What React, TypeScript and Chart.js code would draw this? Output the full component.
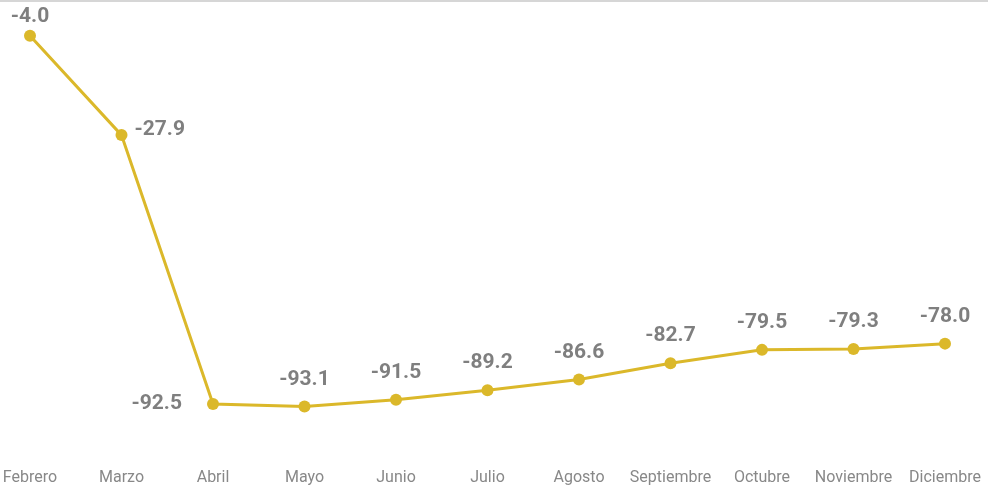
import React, { useEffect, useRef } from "react";
import { Chart, registerables } from "chart.js";

Chart.register(...registerables);

const months = ["Febrero", "Marzo", "Abril", "Mayo", "Junio", "Julio", "Agosto", "Septiembre", "Octubre", "Noviembre", "Diciembre"];
const values = [-4.0, -27.9, -92.5, -93.1, -91.5, -89.2, -86.6, -82.7, -79.5, -79.3, -78.0];

const LINE = "#DBB82A";
const LABEL = "#7F7F7F";

const labelPlugin = {
  id: "valueLabels",
  afterDatasetsDraw(chart: any) {
    const ctx = chart.ctx;
    const meta = chart.getDatasetMeta(0);
    ctx.save();
    ctx.font = "bold 21px Roboto, 'Noto Sans', sans-serif";
    ctx.fillStyle = LABEL;
    ctx.textBaseline = "middle";
    meta.data.forEach((pt: any, i: number) => {
      const txt = values[i].toFixed(1);
      let x = pt.x;
      let y = pt.y;
      if (i === 1) {
        ctx.textAlign = "left";
        x = pt.x + 13;
        y = pt.y - 5;
      } else if (i === 2) {
        ctx.textAlign = "right";
        x = pt.x - 31;
      } else {
        ctx.textAlign = "center";
        y = Math.max(pt.y - 27, 17);
      }
      ctx.fillText(txt, x, y);
    });
    ctx.restore();
  },
};

export default function App() {
  const ref = useRef<HTMLCanvasElement>(null);
  useEffect(() => {
    const chart = new Chart(ref.current!, {
      type: "line",
      data: {
        labels: months,
        datasets: [
          {
            data: values,
            borderColor: LINE,
            backgroundColor: LINE,
            borderWidth: 3,
            pointRadius: 6,
            pointHoverRadius: 6,
            pointBackgroundColor: LINE,
            pointBorderWidth: 0,
            tension: 0,
          },
        ],
      },
      options: {
        animation: false,
        responsive: false,
        layout: { padding: { left: 30, right: 43, top: 19, bottom: 0 } },
        plugins: { legend: { display: false }, tooltip: { enabled: false } },
        scales: {
          x: {
            offset: false,
            grid: { display: false },
            border: { display: false },
            afterFit(scale: any) {
              scale.height = 32;
              scale.paddingLeft = 0;
              scale.paddingRight = 0;
            },
            ticks: {
              color: "#888888",
              font: { family: "Roboto, 'Noto Sans', sans-serif", size: 16 },
              maxRotation: 0,
              autoSkip: false,
              padding: 4,
            },
          },
          y: { display: false, min: -105, max: 0 },
        },
      },
      plugins: [labelPlugin],
    });
    return () => chart.destroy();
  }, []);
  return (
    <div style={{ position: "fixed", left: 0, top: 0, width: 988, height: 488, background: "#fff" }}>
      <div style={{ position: "absolute", left: 0, top: 0, width: 988, height: 2, background: "#D6D6D6" }} />
      <canvas ref={ref} width={988} height={488} style={{ display: "block" }} />
    </div>
  );
}
